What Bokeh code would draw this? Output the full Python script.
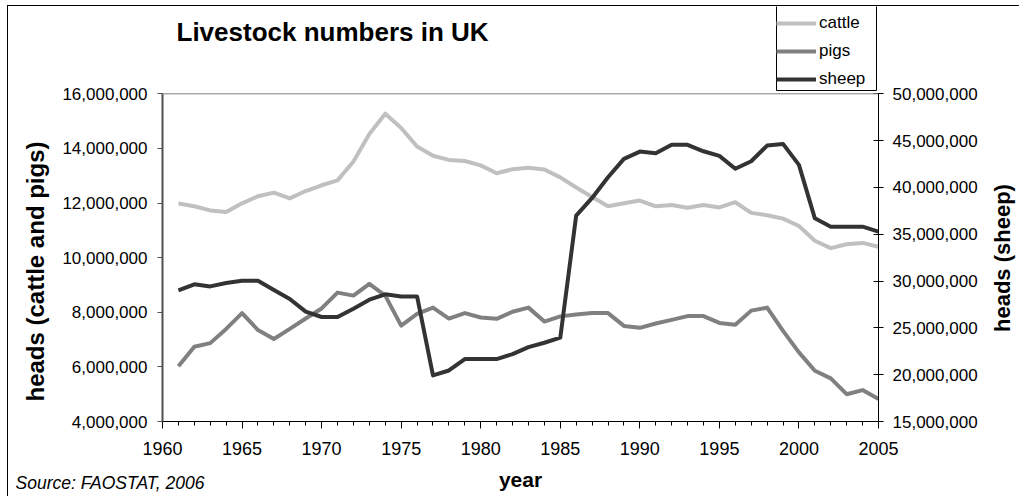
from bokeh.embed import file_html
from bokeh.models import (BoxAnnotation, FixedTicker, Label, Legend, LegendItem,
                          LinearAxis, NumeralTickFormatter, Range1d, Span, Title)
from bokeh.plotting import figure
from bokeh.resources import INLINE

# UK livestock numbers (FAOSTAT, 2006), in millions of heads
years = list(range(1961, 2006))
cattle_m = [11.98, 11.88, 11.73, 11.67, 11.99, 12.25, 12.38, 12.17, 12.44, 12.65,
            12.83, 13.52, 14.53, 15.27, 14.75, 14.07, 13.73, 13.58, 13.54, 13.38,
            13.09, 13.24, 13.29, 13.23, 12.94, 12.57, 12.22, 11.88, 11.99, 12.09,
            11.88, 11.93, 11.83, 11.93, 11.84, 12.03, 11.64, 11.55, 11.43, 11.16,
            10.62, 10.35, 10.49, 10.54, 10.40]
pigs_m = [6.02, 6.74, 6.87, 7.39, 7.97, 7.35, 7.02, 7.39, 7.77, 8.14,
          8.72, 8.61, 9.04, 8.61, 7.51, 7.94, 8.17, 7.77, 7.97, 7.81,
          7.76, 8.02, 8.17, 7.66, 7.85, 7.92, 7.97, 7.97, 7.50, 7.43,
          7.59, 7.72, 7.86, 7.86, 7.61, 7.54, 8.06, 8.17, 7.32, 6.53,
          5.86, 5.58, 5.00, 5.15, 4.82]
sheep_m = [29.00, 29.65, 29.43, 29.79, 30.04, 30.04, 29.05, 28.08, 26.73, 26.16,
           26.16, 27.05, 28.01, 28.58, 28.36, 28.36, 19.92, 20.45, 21.67, 21.67,
           21.67, 22.20, 22.95, 23.41, 23.95, 36.99, 38.88, 41.09, 43.05, 43.83,
           43.65, 44.55, 44.55, 43.86, 43.37, 42.00, 42.80, 44.47, 44.65, 42.41,
           36.70, 35.81, 35.81, 35.81, 35.28]

year_ticks = list(range(1960, 2006, 5))
left_ticks = list(range(4_000_000, 16_000_001, 2_000_000))
right_ticks = list(range(15_000_000, 50_000_001, 5_000_000))
left_bounds = (4_000_000, 16_000_000)
right_bounds = (15_000_000, 50_000_000)

cattle = [v * 1e6 for v in cattle_m]
pigs = [v * 1e6 for v in pigs_m]
sheep = [v * 1e6 for v in sheep_m]

FONT = "Liberation Sans"

# canvas / frame geometry (pixels)
BORDER_L, BORDER_R, BORDER_B = 154, 146, 76
FRAME_W, H = 722, 491
W = BORDER_L + FRAME_W + BORDER_R
FRAME_H = H - BORDER_B            # frame runs up to the top edge of the canvas
AXIS_PX = 327.7                   # pixel length of the value axes


def left_at(px):
    """left-axis value lying px pixels above the bottom of the frame"""
    return left_bounds[0] + (left_bounds[1] - left_bounds[0]) * px / AXIS_PX


def right_at(px):
    """right-axis value lying px pixels above the bottom of the frame"""
    return right_bounds[0] + (right_bounds[1] - right_bounds[0]) * px / AXIS_PX


p = figure(width=W, height=H, output_backend="svg", toolbar_location=None,
           x_range=Range1d(1960, 2005), y_range=Range1d(left_bounds[0], left_at(FRAME_H)),
           min_border_left=BORDER_L, min_border_right=BORDER_R,
           min_border_top=0, min_border_bottom=BORDER_B)
p.styles = {"margin-left": "7px", "margin-top": "5px",
            "border-left": "1px solid #000000", "border-top": "1px solid #000000"}
p.extra_y_ranges = {"sheep": Range1d(right_bounds[0], right_at(FRAME_H))}

p.xgrid.visible = False
p.ygrid.visible = False
p.outline_line_color = None
p.background_fill_color = "white"
p.border_fill_color = "white"

# top edge of the plot area
p.add_layout(Span(location=left_bounds[1], dimension="width",
                  line_color="#808080", line_width=1))

# bottom axis: years
xa = p.xaxis[0]
xa.ticker = FixedTicker(ticks=year_ticks, minor_ticks=years + [1960])
xa.major_label_text_font = FONT
xa.major_label_text_font_size = "18px"
xa.major_label_text_color = "#000000"
xa.major_label_standoff = 13
xa.axis_line_color = "#000000"
xa.major_tick_line_color = "#000000"
xa.minor_tick_line_color = "#000000"
xa.major_tick_out = 7
xa.major_tick_in = 0
xa.minor_tick_out = 4
xa.minor_tick_in = 0
xa.axis_label = "year"
xa.axis_label_text_font = FONT
xa.axis_label_text_font_size = "21px"
xa.axis_label_text_font_style = "bold"
xa.axis_label_text_color = "#000000"
xa.axis_label_standoff = 10

# left axis: cattle and pigs
ya = p.yaxis[0]
ya.bounds = left_bounds
ya.ticker = FixedTicker(ticks=left_ticks)
ya.formatter = NumeralTickFormatter(format="0,0")
ya.major_label_text_font = FONT
ya.major_label_text_font_size = "17px"
ya.major_label_text_color = "#000000"
ya.major_label_standoff = 10
ya.axis_line_color = "#505050"
ya.axis_line_width = 2
ya.major_tick_line_color = "#505050"
ya.major_tick_out = 5
ya.major_tick_in = 0
ya.minor_tick_line_color = None

# right axis: sheep
ra = LinearAxis(y_range_name="sheep", bounds=right_bounds)
ra.ticker = FixedTicker(ticks=right_ticks)
ra.formatter = NumeralTickFormatter(format="0,0")
ra.major_label_text_font = FONT
ra.major_label_text_font_size = "17px"
ra.major_label_text_color = "#000000"
ra.major_label_standoff = 9
ra.axis_line_color = "#000000"
ra.major_tick_line_color = "#000000"
ra.major_tick_out = 5
ra.major_tick_in = 5
ra.minor_tick_line_color = None
p.add_layout(ra, "right")


def title_axis(range_name, at, text, size, orientation, standoff):
    """an outer axis with no rule, carrying a single rotated axis title"""
    ax = LinearAxis(ticker=FixedTicker(ticks=[at], minor_ticks=[]),
                    major_label_overrides={at: text},
                    major_label_orientation=orientation,
                    major_label_standoff=standoff,
                    major_label_text_font=FONT, major_label_text_font_size=size,
                    major_label_text_font_style="bold", major_label_text_color="#000000",
                    axis_line_color=None, major_tick_line_color=None,
                    minor_tick_line_color=None, major_tick_out=0, minor_tick_out=0)
    if range_name is not None:
        ax.y_range_name = range_name
    return ax


# left title centred on the axis, right title starting near its lower end
left_title_at = round(left_at(421 - 271))
right_title_at = round(right_at(421 - 331.5))
p.add_layout(title_axis(None, left_title_at, "heads (cattle and pigs)", "24px",
                        "vertical", 11), "left")
p.add_layout(title_axis("sheep", right_title_at, "heads (sheep)", "22px",
                        1.5707963267948966, 22), "right")

lw = 4
r_cattle = p.line(years, cattle, line_color="#c0c0c0", line_width=lw, line_join="round")
r_pigs = p.line(years, pigs, line_color="#808080", line_width=lw, line_join="round")
r_sheep = p.line(years, sheep, y_range_name="sheep", line_color="#333333",
                 line_width=lw, line_join="round")

# legend box (frame-relative pixels), with the legend entries drawn inside it
LEG_L, LEG_B, LEG_W, LEG_H = 614, 331, 100, 90
p.add_layout(BoxAnnotation(left=LEG_L, right=LEG_L + LEG_W,
                           bottom=LEG_B, top=LEG_B + LEG_H,
                           left_units="screen", right_units="screen",
                           bottom_units="screen", top_units="screen",
                           fill_color="white", fill_alpha=1.0,
                           line_color="#000000", line_width=1, line_alpha=1.0))

legend = Legend(items=[LegendItem(label="cattle", renderers=[r_cattle]),
                       LegendItem(label="pigs", renderers=[r_pigs]),
                       LegendItem(label="sheep", renderers=[r_sheep])],
                location=(LEG_L, LEG_B), orientation="vertical",
                glyph_width=40, glyph_height=22, label_height=22,
                label_standoff=3, spacing=6, padding=3, margin=0,
                label_text_font=FONT, label_text_font_size="17px",
                label_text_color="#000000",
                border_line_color=None,
                background_fill_color="white", background_fill_alpha=0.0)
p.add_layout(legend)

p.add_layout(Label(x=14, y=390, x_units="screen", y_units="screen",
                   text="Livestock numbers in UK", text_font=FONT,
                   text_font_size="26px", text_font_style="bold",
                   text_align="left", text_baseline="alphabetic",
                   text_color="#000000"))

# data source note, below the year axis
p.add_layout(Title(text="Source: FAOSTAT, 2006", align="left", offset=-147,
                   vertical_align="top", standoff=-42, text_font=FONT,
                   text_font_size="17.5px", text_font_style="italic",
                   text_color="#000000"), "below")

open("out.html", "w").write(file_html(p, INLINE))
